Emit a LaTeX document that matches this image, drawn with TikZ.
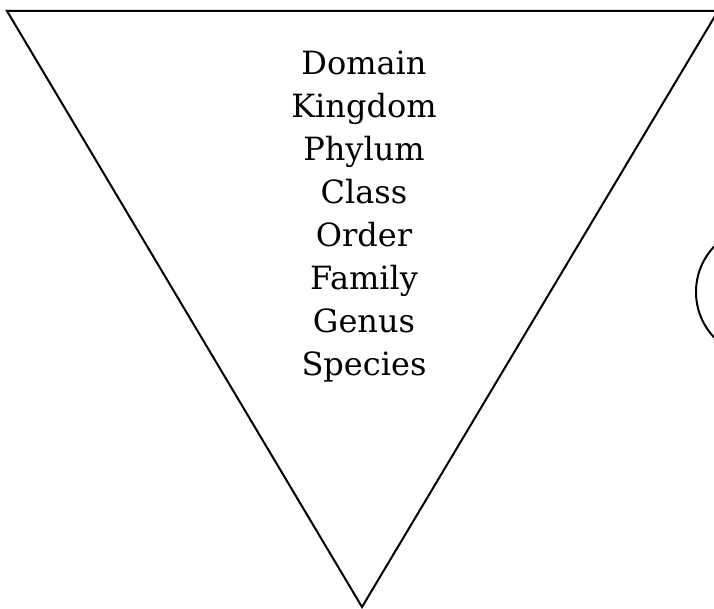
\documentclass[tikz,border=0pt]{standalone}
\usepackage{fontspec}
\setmainfont{DejaVu Serif}

\tikzset{
    trait/.style={line width=1.5pt, black},
    rang/.style={anchor=base, font=\fontsize{24}{29}\selectfont, inner sep=0pt}
}

\begin{document}
\begin{tikzpicture}[x=0.75pt, y=-0.75pt]

        % Le cadre
        \useasboundingbox (0, 0) rectangle (714, 609);

        % Les sommets du triangle
        \coordinate (hg) at (7, 11);
        \coordinate (hd) at (718, 11);
        \coordinate (bas) at (362, 607);

        % Le triangle à l'envers
        \draw[trait] (hg) -- (hd) -- (bas) -- cycle;

        % Les rangs
        \foreach \nom [count=\i from 0] in {Domain, Kingdom, Phylum, Class, Order, Family, Genus, Species}
            \node[rang] (rang\i) at (364, 75 + 43*\i) {\nom};

        % Le cercle coupé à droite
        \draw[trait] (762, 292) circle (66);

    \end{tikzpicture}
\end{document}
